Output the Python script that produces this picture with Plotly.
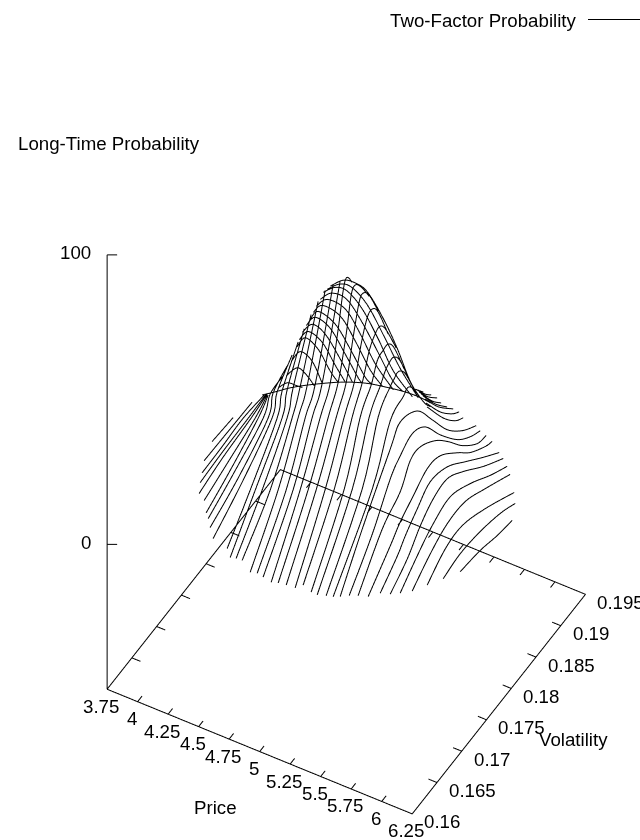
import plotly.graph_objects as go

# Surface wires at constant price: price, then volatility / probability knots along the wire
line_price = [3.875 + 0.0625 * k for k in range(37)]
line_vol = [
    [.17812, .18236],
    [.17497, .17982, .18466],
    [.17303, .17707, .18131, .18555],
    [.17109, .17553, .18079, .18442],
    [.16933, .17398, .17984, .18307],
    [.16881, .17345, .17911, .18153],
    [.16768, .17252, .17818, .1802],
    [.16654, .1718, .17765, .17907, .1817],
    [.16539, .17105, .17711, .17812, .18095],
    [.16446, .17052, .17638, .17739, .18042],
    [.16576, .1704, .17586, .17687, .1801],
    [.16483, .16988, .17533, .17634, .17978],
    [.16448, .16974, .17479, .176, .17963],
    [.16416, .16982, .17426, .17588, .17951],
    [.16424, .1699, .17394, .17576, .17939],
    [.16412, .16998, .17382, .17584, .17947],
    [.16378, .16984, .17368, .1757, .17933],
    [.16386, .16972, .17376, .17578, .17739, .17881, .18022],
    [.16374, .1698, .17384, .17586, .17747, .17848, .17929, .1805, .18212],
    [.16382, .16988, .17392, .17594, .17735, .17856, .17937, .18058, .1824],
    [.16408, .17014, .17398, .176, .17741, .17862, .17963, .18085, .18287],
    [.16416, .17042, .17406, .17608, .17749, .17871, .17972, .18093, .18295],
    [.16424, .17091, .17414, .17636, .17757, .17879, .1798, .18101, .18303],
    [.16392, .17099, .17442, .17665, .17765, .17866, .17947, .18068, .18291],
    [.16418, .17145, .17469, .17711, .17792, .17852, .17933, .18034, .18236],
    [.16406, .17194, .17557, .1782, .17881, .17941, .18022, .18163],
    [.16394, .16838, .17404, .17606, .17949, .18252, .18555, .18858, .19141],
    [.16422, .16887, .1725, .17452, .17695, .17957, .1826, .18604, .18866, .19068],
    [.16448, .16933, .17297, .17499, .17701, .18004, .18266, .18549, .18852, .19034],
    [.16497, .16941, .17143, .17406, .17689, .17951, .18295, .18557, .1886, .19002],
    [.16586, .16929, .17091, .17333, .17596, .17939, .18303, .18646, .1899],
    [.16634, .16978, .1724, .17503, .17786, .18109, .18513, .18917],
    [.16681, .17044, .17347, .17691, .18095, .18499, .18842],
    [.1677, .17133, .17477, .1784, .18244, .18749],
    [.16919, .17283, .17626, .18091, .18677],
    [.17089, .17432, .17836, .1824, .18543],
    [.17277, .17681, .18024, .18327],
]
line_prob = [
    [-1.6, -2.5],
    [-.3, -.7, -1.1],
    [.8, 1.1, 1.7, .5],
    [2.7, 3.5, 3.9, 4.4],
    [3.8, 5.8, 7.1, 8.4],
    [3.6, 6.3, 9.7, 12.4],
    [2.9, 7, 12.8, 16.4],
    [4.4, 9, 15, 20.3, 20.9],
    [4.9, 9.7, 17.3, 23.8, 27],
    [4.2, 11.2, 20, 26.8, 33],
    [-1, 9.1, 22.2, 29.4, 39.3],
    [-1, 11.3, 24.5, 32, 45.6],
    [.5, 12.7, 26.7, 34.5, 51.9],
    [1.6, 13.6, 28.9, 36.2, 57.8],
    [-1.6, 14.6, 30.8, 37.9, 62.9],
    [-.6, 15.5, 32.1, 39.2, 65.9],
    [-.1, 16.9, 33.5, 40.9, 68.4],
    [-1, 18.2, 34.4, 41.8, 57, 70.9, 67.2],
    [.1, 19.2, 35.4, 43.1, 56.2, 67.5, 69.3, 66, 59.3],
    [.3, 20.1, 36.3, 44, 56.6, 66.1, 67.4, 64.1, 54.7],
    [-.2, 20.6, 37.3, 44.7, 55.1, 61.5, 62.4, 58.8, 46.8],
    [1.7, 21.1, 38.2, 45.6, 53.6, 56.9, 57.4, 53.5, 42.9],
    [.2, 21.2, 39.1, 45.4, 51.1, 52.2, 52.1, 48.2, 36.5],
    [1, 22.1, 39.6, 45.5, 48.5, 49.8, 49.4, 45.5, 32.7],
    [1.2, 22.2, 40.1, 45.3, 46.3, 47.1, 46, 42.5, 31.9],
    [2.2, 22.2, 37.9, 40.6, 41.7, 41.4, 39, 32.8],
    [3.6, 17.2, 32.6, 37.6, 34, 24.4, 14.4, 7.5, 3.1],
    [4.4, 15.5, 26.7, 30.3, 32.7, 29.4, 20.1, 11, 6.3, 4],
    [4.9, 17.3, 22.3, 28.7, 29.1, 24.7, 18.7, 11.2, 5.3, 4.2],
    [4.6, 12.4, 16.3, 19.6, 22.9, 21.7, 15.3, 9.7, 5.2, 3.9],
    [4.9, 10.2, 13.7, 17.8, 21.5, 19.2, 13.1, 7.1, 1.4],
    [4.6, 9.3, 15, 18.7, 19.5, 15, 8, 2],
    [5, 10.7, 14.5, 16.4, 12.2, 6.3, 2],
    [4.9, 9.8, 12.8, 12.6, 8.3, 2.3],
    [4.8, 9.4, 10, 5.8, -1.3],
    [4.4, 5.6, 4.5, 2, -1.1],
    [3.8, 2.4, .1, -1.2],
]

# Far ends of the same price wires, where they come out from behind the peak
stub_price = [5, 5.0625, 5.125, 5.1875, 5.25, 5.3125, 5.375, 5.4375]
stub_vol = [
    [.19141, .19303],
    [.19028, .1919, .19311],
    [.18913, .19095, .19276],
    [.188, .19022, .19204],
    [.18687, .18929, .19171],
    [.18573, .18836, .19139],
    [.18438, .18721, .18963, .19105],
    [.18305, .18628, .1887, .19032],
]
stub_prob = [
    [7.1, 2.6],
    [10.3, 5.4, 2.5],
    [13.2, 7.6, 3.3],
    [16.1, 8.8, 4.2],
    [18.9, 10.9, 4.6],
    [21.4, 13, 5.7],
    [24, 14.8, 8.9, 6.5],
    [26.6, 15.8, 9.6, 7.1],
]

# Surface wires at constant volatility, on the peak only
slice_vol = [.17645, .17733, .1782, .17908, .17995, .18039, .18083, .18126, .1817, .18214,
             .18258, .18301, .18345, .18389, .18433]
slice_price = [
    [4.354, 4.461, 4.584, 4.748, 4.993, 5.198, 5.362, 5.526, 5.649, 5.731],
    [4.45, 4.524, 4.598, 4.647],
    [4.48, 4.57, 4.643, 4.709],
    [4.485, 4.559, 4.657, 4.739],
    [4.499, 4.565, 4.671, 4.77, 4.835],
    [4.498, 4.571, 4.686, 4.793, 4.875],
    [4.505, 4.587, 4.693, 4.816, 4.915],
    [4.52, 4.593, 4.716, 4.839, 4.946, 4.979],
    [4.534, 4.6, 4.739, 4.862, 4.985, 5.043],
    [4.542, 4.616, 4.763, 4.886, 5.009, 5.107],
    [4.548, 4.639, 4.786, 4.909, 5.032, 5.18],
    [4.564, 4.654, 4.777, 4.9, 5.031, 5.154, 5.244],
    [4.571, 4.669, 4.767, 4.89, 5.021, 5.144, 5.3],
    [4.585, 4.684, 4.782, 4.913, 5.052, 5.184, 5.331],
    [4.593, 4.699, 4.798, 4.896, 5.027, 5.142, 5.248, 5.355, 5.412],
]
slice_prob = [
    [26.4, 29.3, 32.8, 36.7, 41.8, 45, 46.5, 47.6, 47.8, 47.4],
    [28.6, 31.6, 31.9, 32.1],
    [31.4, 35.7, 34.6, 31.9],
    [34.5, 39.2, 37.5, 31.3],
    [38, 42.2, 40, 34.1, 31.4],
    [39.4, 43.5, 41.7, 35.6, 31.2],
    [41.1, 45.3, 43.7, 37.2, 31],
    [42.8, 46.9, 45.2, 38.4, 32, 30.8],
    [44.2, 48.1, 46.1, 39.6, 32, 30.6],
    [45.8, 49.5, 48.3, 41.8, 33.9, 30.1],
    [47.1, 51, 50.2, 43.7, 35.5, 29.1],
    [48.8, 52.5, 52.6, 47.1, 39, 31.1, 28.6],
    [50.4, 53.8, 54.2, 50.1, 42, 33.1, 26.9],
    [50.7, 54.2, 54.9, 51, 42.4, 33.6, 26.1],
    [51, 54.9, 55.6, 54.2, 47.2, 38.8, 29.3, 24.2, 23.5],
]

price_ticks = [3.75, 4, 4.25, 4.5, 4.75, 5, 5.25, 5.5, 5.75, 6, 6.25]
price_labels = ["3.75", "4", "4.25", "4.5", "4.75", "5", "5.25", "5.5", "5.75", "6", "6.25"]
vol_ticks = [.16, .165, .17, .175, .18, .185, .19, .195]
vol_labels = ["0.16", "0.165", "0.17", "0.175", "0.18", "0.185", "0.19", "0.195"]
prob_ticks = [0, 100]
prob_labels = ["0", "100"]

P0, P1, V0, V1, Z0, Z1 = 3.75, 6.25, .16, .195, -50, 100
PAD = 0.005  # scene bounds sit just outside the frame so its edges are not clipped
FONT = dict(family="Liberation Sans, Arial, sans-serif", size=18.7, color="black")


def rounded(t):
    # Catmull-Rom rounding of one wire for drawing; the knots themselves stay on the curve
    if len(t) < 3:
        return t
    pts = [t[0]] + t + [t[-1]]
    out = []
    for i in range(1, len(pts) - 2):
        a, b, c, d = pts[i - 1], pts[i], pts[i + 1], pts[i + 2]
        for k in range(6):
            u = k / 6
            out.append(0.5 * (2 * b + (c - a) * u + (2 * a - 5 * b + 4 * c - d) * u * u
                              + (3 * b - a - 3 * c + d) * u * u * u))
    out.append(t[-1])
    return out


wx, wy, wz = [], [], []
def wire(xs, ys, zs):
    wx.extend(rounded(xs) + [None]); wy.extend(rounded(ys) + [None]); wz.extend(rounded(zs) + [None])

for p, vs, zs in zip(line_price, line_vol, line_prob):
    wire([p] * len(vs), vs, zs)
for p, vs, zs in zip(stub_price, stub_vol, stub_prob):
    wire([p] * len(vs), vs, zs)
for v, ps, zs in zip(slice_vol, slice_price, slice_prob):
    wire(ps, [v] * len(ps), zs)

bx, by, bz = [], [], []
def frame(xs, ys, zs):
    bx.extend(xs + [None]); by.extend(ys + [None]); bz.extend(zs + [None])

frame([P0, P1, P1, P0, P0], [V0, V0, V1, V1, V0], [Z0] * 5)
frame([P0, P0], [V0, V0], [Z0, Z1])
for p in price_ticks[1:-1]:
    frame([p, p], [V0, V0 + .0009], [Z0, Z0])
    frame([p, p], [V1, V1 - .0009], [Z0, Z0])
for v in vol_ticks[1:-1]:
    frame([P0, P0 + .07], [v, v], [Z0, Z0])
    frame([P1, P1 - .07], [v, v], [Z0, Z0])
for z in prob_ticks:
    frame([P0, P0 + .062], [V0, V0 + .00049], [z, z])

hidden = dict(visible=False)
ann3d = []
for p, t in zip(price_ticks, price_labels):
    ann3d.append(dict(x=p, y=V0, z=Z0, text=t, showarrow=False, font=FONT,
                      xanchor="center", yanchor="middle", xshift=-6, yshift=-17))
for v, t in zip(vol_ticks, vol_labels):
    ann3d.append(dict(x=P1, y=v, z=Z0, text=t, showarrow=False, font=FONT,
                      xanchor="left", yanchor="middle", xshift=10, yshift=-8))
for z, t in zip(prob_ticks, prob_labels):
    ann3d.append(dict(x=P0, y=V0, z=z, text=t, showarrow=False, font=FONT,
                      xanchor="right", yanchor="middle", xshift=-14, yshift=2))

fig = go.Figure()
fig.add_trace(go.Scatter3d(x=bx, y=by, z=bz, mode="lines", line=dict(color="black", width=2),
                           hoverinfo="skip", showlegend=False, connectgaps=False))
fig.add_trace(go.Scatter3d(x=wx, y=wy, z=wz, mode="lines", line=dict(color="black", width=2),
                           hoverinfo="skip", showlegend=False, connectgaps=False,
                           name="Two-Factor Probability"))

s = 8
e = (.343, -.604, .72)
c = (-.0583, -.0241, .0076)
grow = 1 + 2 * PAD
dp, dv, dz = (P1 - P0) * PAD, (V1 - V0) * PAD, (Z1 - Z0) * PAD
fig.update_layout(
    width=640, height=840, margin=dict(l=0, r=0, t=0, b=0), paper_bgcolor="white",
    showlegend=False,
    scene=dict(
        domain=dict(x=[0, 1], y=[0, 1]),
        xaxis=dict(range=[P0 - dp, P1 + dp], **hidden),
        yaxis=dict(range=[V0 - dv, V1 + dv], **hidden),
        zaxis=dict(range=[Z0 - dz, Z1 + dz], **hidden),
        aspectmode="manual", aspectratio=dict(x=.8354 * grow, y=.8354 * grow, z=1.4896 * grow),
        camera=dict(projection=dict(type="orthographic"),
                    up=dict(x=0, y=0, z=1),
                    center=dict(x=c[0], y=c[1], z=c[2]),
                    eye=dict(x=c[0] + s * e[0], y=c[1] + s * e[1], z=c[2] + s * e[2])),
        annotations=ann3d,
    ),
    annotations=[
        dict(x=388 / 640, y=1 - 20 / 840, xref="paper", yref="paper", text="Two-Factor Probability",
             showarrow=False, font=FONT, xanchor="left", yanchor="middle"),
        dict(x=16 / 640, y=1 - 143 / 840, xref="paper", yref="paper", text="Long-Time Probability",
             showarrow=False, font=FONT, xanchor="left", yanchor="middle"),
        dict(x=215 / 640, y=1 - 807 / 840, xref="paper", yref="paper", text="Price",
             showarrow=False, font=FONT, xanchor="center", yanchor="middle"),
        dict(x=573 / 640, y=1 - 739 / 840, xref="paper", yref="paper", text="Volatility",
             showarrow=False, font=FONT, xanchor="center", yanchor="middle"),
    ],
    shapes=[dict(type="line", xref="paper", yref="paper", x0=588 / 640, x1=1,
                 y0=1 - 19.5 / 840, y1=1 - 19.5 / 840, line=dict(color="black", width=1))],
)
fig.write_html("out.html", config=dict(displayModeBar=False),
               post_script="document.body.style.margin='0';document.body.style.overflow='hidden';")
